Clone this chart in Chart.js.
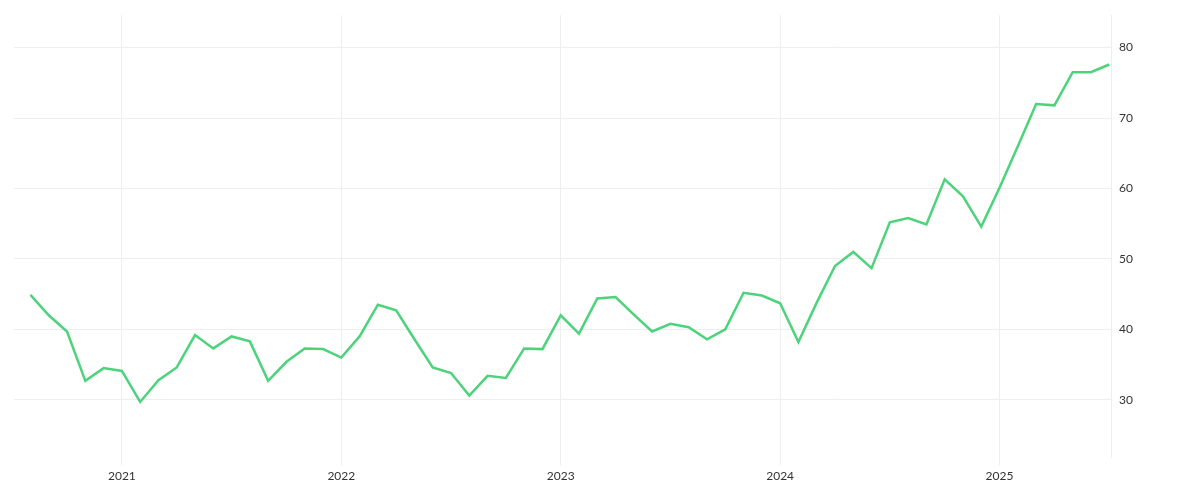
<!DOCTYPE html>
<html>
<head>
<meta charset="utf-8">
<script src="https://cdn.jsdelivr.net/npm/chart.js@4"></script>
<style>
  body { margin: 0; background: #fff; }
  #wrap { width: 1200px; height: 500px; }
</style>
</head>
<body>
<div id="wrap"><canvas id="myChart"></canvas></div>
<script>
// months counted from Jan 2020 = 0; first point Aug 2020
var startMonth = 7;
var values = [
  44.9, 42.0, 39.7, 32.7, 34.5,
  34.1, 29.7, 32.8, 34.6, 39.2, 37.3, 39.0, 38.3, 32.7, 35.4, 37.3, 37.2,
  36.0, 39.0, 43.5, 42.7, 38.6, 34.6, 33.8, 30.6, 33.4, 33.1, 37.3, 37.2,
  42.0, 39.4, 44.4, 44.6, 42.1, 39.7, 40.8, 40.3, 38.6, 40.0, 45.2, 44.8,
  43.7, 38.2, 43.8, 49.0, 51.0, 48.7, 55.2, 55.8, 54.9, 61.3, 58.9, 54.6,
  60.1, 66.0, 72.0, 71.8, 76.5, 76.5, 77.6
];
var yearTicks = [12, 24, 36, 48, 60];
var yearLabels = ['2021', '2022', '2023', '2024', '2025'];

var points = values.map(function (v, i) { return { x: startMonth + i, y: v }; });

var ctx = document.getElementById('myChart').getContext('2d');
new Chart(ctx, {
  type: 'line',
  data: {
    datasets: [{
      data: points,
      borderColor: '#4cd37b',
      borderWidth: 2.5,
      pointRadius: 0,
      tension: 0,
      fill: false
    }]
  },
  options: {
    responsive: true,
    maintainAspectRatio: false,
    animation: false,
    layout: { padding: { left: 14, right: 59, top: 8, bottom: 14 } },
    plugins: { legend: { display: false }, tooltip: { enabled: false } },
    scales: {
      x: {
        type: 'linear',
        min: 6.1,
        max: 66.1,
        afterBuildTicks: function (axis) {
          axis.ticks = yearTicks.map(function (v) { return { value: v }; });
        },
        ticks: {
          color: '#333',
          font: { family: 'Lato', size: 12 },
          maxRotation: 0,
          callback: function (v) { return yearLabels[yearTicks.indexOf(v)]; }
        },
        grid: { color: '#eeeeee', drawTicks: true, tickLength: 8 },
        border: { display: false }
      },
      y: {
        position: 'right',
        min: 21.8,
        max: 84.6,
        afterBuildTicks: function (axis) {
          axis.ticks = [30, 40, 50, 60, 70, 80].map(function (v) { return { value: v }; });
        },
        ticks: {
          color: '#333',
          font: { family: 'Lato', size: 12 },
          padding: 8
        },
        grid: { color: '#eeeeee', drawTicks: false },
        border: { color: '#eeeeee' }
      }
    }
  }
});
</script>
</body>
</html>
